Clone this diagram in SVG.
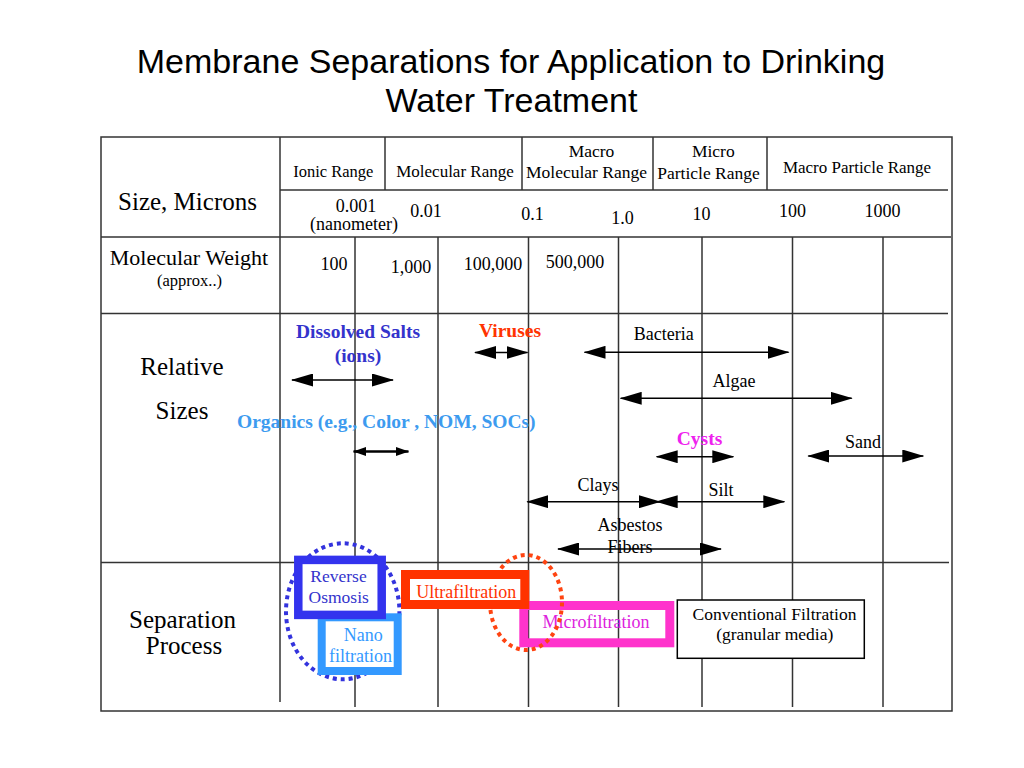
<svg xmlns="http://www.w3.org/2000/svg" width="1024" height="768" viewBox="0 0 1024 768">
<defs>
<style>
text{font-family:"Liberation Serif","Times New Roman",serif;text-anchor:middle;fill:#000}
.title{font-family:"Liberation Sans",Arial,sans-serif;font-size:34px}
.row{font-size:25px}
.hdr{font-size:17px}
.num{font-size:18px}
.lbl{font-size:18px}
.bold{font-weight:bold;font-size:19.5px}
.grid{stroke:#333;stroke-width:1.5;fill:none}
.arr{stroke:#000;stroke-width:1.6;fill:none;marker-start:url(#ah);marker-end:url(#ah)}
.arrs{stroke:#000;stroke-width:2.6;fill:none;marker-start:url(#ahs);marker-end:url(#ahs)}
.dot{fill:none;stroke-width:4;stroke-dasharray:4 4}
</style>
<marker id="ah" viewBox="0 0 22 13" refX="21" refY="6.5" markerWidth="22" markerHeight="13" markerUnits="userSpaceOnUse" orient="auto-start-reverse"><path d="M0,0 L22,6.5 L0,13 Z" fill="#000"/></marker>
<marker id="ahs" viewBox="0 0 13 9" refX="12.5" refY="4.5" markerWidth="13" markerHeight="9" markerUnits="userSpaceOnUse" orient="auto-start-reverse"><path d="M0,0 L13,4.5 L0,9 Z" fill="#000"/></marker>
</defs>
<rect width="1024" height="768" fill="#fff"/>
<g id="title">
<text class="title" x="511" y="72.5">Membrane Separations for Application to Drinking</text>
<text class="title" x="511.5" y="111.5">Water Treatment</text>
</g>
<g id="grid">
<rect class="grid" x="101" y="137" width="851" height="574" stroke-width="2"/>
<line class="grid" x1="280" y1="190" x2="948" y2="190"/>
<line class="grid" x1="101" y1="237" x2="951" y2="237"/>
<line class="grid" x1="101" y1="313.5" x2="948" y2="313.5"/>
<line class="grid" x1="101" y1="562.5" x2="949" y2="562.5"/>
<line class="grid" x1="280" y1="137" x2="280" y2="702"/>
<line class="grid" x1="385" y1="137" x2="385" y2="190"/>
<line class="grid" x1="522" y1="137" x2="522" y2="190"/>
<line class="grid" x1="653" y1="137" x2="653" y2="190"/>
<line class="grid" x1="767" y1="137" x2="767" y2="190"/>
<line class="grid" x1="355" y1="237" x2="355" y2="707"/>
<line class="grid" x1="438" y1="237" x2="438" y2="707"/>
<line class="grid" x1="528.5" y1="237" x2="528.5" y2="707"/>
<line class="grid" x1="618.5" y1="237" x2="618.5" y2="707"/>
<line class="grid" x1="702" y1="237" x2="702" y2="707"/>
<line class="grid" x1="792.5" y1="237" x2="792.5" y2="707"/>
<line class="grid" x1="883" y1="237" x2="883" y2="707"/>
</g>
<g id="row-headers">
<text class="row" x="187.5" y="210">Size, Microns</text>
<text x="189" y="265" font-size="22">Molecular Weight</text>
<text x="189.5" y="286" font-size="16.5">(approx..)</text>
<text class="row" x="182" y="375">Relative</text>
<text class="row" x="182" y="419">Sizes</text>
<text class="row" x="182.5" y="628.3">Separation</text>
<text class="row" x="184" y="654.3">Process</text>
</g>
<g id="ranges">
<text x="333.3" y="176.5" font-size="16.5">Ionic Range</text>
<text x="455" y="177" class="hdr">Molecular Range</text>
<text x="591.5" y="156.7" font-size="17.5">Macro</text>
<text x="586.5" y="178" font-size="17.5">Molecular Range</text>
<text x="713.3" y="156.7" font-size="17.5">Micro</text>
<text x="708.5" y="179.3" font-size="17.5">Particle Range</text>
<text x="857" y="173.3" class="hdr">Macro Particle Range</text>
</g>
<g id="sizes">
<text class="num" x="356" y="211.7">0.001</text>
<text class="num" x="354" y="230">(nanometer)</text>
<text class="num" x="426" y="216.7">0.01</text>
<text class="num" x="532.5" y="220">0.1</text>
<text class="num" x="622.5" y="224">1.0</text>
<text class="num" x="701.5" y="220">10</text>
<text class="num" x="792.5" y="217">100</text>
<text class="num" x="882.5" y="217">1000</text>
</g>
<g id="weights">
<text class="num" x="334" y="270">100</text>
<text class="num" x="411" y="273">1,000</text>
<text class="num" x="493" y="270">100,000</text>
<text class="num" x="575" y="268">500,000</text>
</g>
<g id="dissolved-salts"><text class="bold" x="358" y="338" fill="#3333cc" style="fill:#3333cc">Dissolved Salts</text><text class="bold" x="358" y="361.5" style="fill:#3333cc">(ions)</text></g>
<g id="organics"><text class="bold" x="386.3" y="428" style="fill:#3d9bef">Organics (e.g., Color , NOM, SOCs)</text></g>
<g id="viruses"><text class="bold" x="510" y="337" style="fill:#ff3300">Viruses</text></g>
<g id="bacteria"><text class="lbl" x="663.7" y="340">Bacteria</text></g>
<g id="algae"><text class="lbl" x="734" y="387">Algae</text></g>
<g id="cysts"><text class="bold" x="699.5" y="445" style="fill:#ee22ee">Cysts</text></g>
<g id="sand"><text class="lbl" x="863" y="448.3">Sand</text></g>
<g id="clays"><text class="lbl" x="598" y="491">Clays</text></g>
<g id="silt"><text class="lbl" x="721" y="495.7">Silt</text></g>
<g id="asbestos"><text class="lbl" x="630" y="531">Asbestos</text><text class="lbl" x="630" y="552.7">Fibers</text></g>
<g id="connectors">
<line class="arr" x1="292" y1="380" x2="393" y2="380"/>
<line class="arrs" x1="353.5" y1="451.5" x2="408.5" y2="451.5"/>
<line class="arr" x1="475" y1="352.5" x2="527.5" y2="352.5"/>
<line class="arr" x1="584.5" y1="352.3" x2="788.5" y2="352.3"/>
<line class="arr" x1="620.7" y1="398.3" x2="851.7" y2="398.3"/>
<line class="arr" x1="656.7" y1="456.7" x2="733.3" y2="456.7"/>
<line class="arr" x1="808.3" y1="456" x2="923.3" y2="456"/>
<line class="arr" x1="527.3" y1="501.7" x2="660" y2="501.7"/>
<line class="arr" x1="656.7" y1="501.7" x2="784.3" y2="501.7"/>
<line class="arr" x1="558" y1="549" x2="721" y2="549"/>
</g>
<g id="ro-nf-group"><ellipse class="dot" cx="342.7" cy="611.3" rx="56.7" ry="68" stroke="#3333dd"/></g>
<g id="nanofiltration"><rect x="321.7" y="617.3" width="76" height="53.7" fill="#fff" stroke="#3399ff" stroke-width="8"/><text class="lbl" x="363.3" y="640.7" style="fill:#3399ff">Nano</text><text class="lbl" x="360.5" y="661.7" style="fill:#3399ff">filtration</text></g>
<g id="reverse-osmosis"><rect x="298.3" y="559.9" width="83.4" height="55" fill="#fff" stroke="#3333ee" stroke-width="8.5"/><text x="338.5" y="581.7" font-size="17.5" style="fill:#3333cc">Reverse</text><text x="338.7" y="603.3" font-size="17.5" style="fill:#3333cc">Osmosis</text></g>
<g id="microfiltration"><rect x="523.8" y="605.5" width="146" height="37.3" fill="none" stroke="#ff33cc" stroke-width="9"/><text class="lbl" x="596" y="628.3" style="fill:#dd22dd">Microfiltration</text></g>
<g id="uf-mf-group"><ellipse class="dot" cx="526" cy="602.5" rx="36" ry="47.5" stroke="#ff4411"/></g>
<g id="ultrafiltration"><rect x="405.5" y="574.5" width="119.3" height="30" fill="#fff" stroke="#ff3300" stroke-width="9"/><text class="lbl" x="466.3" y="598.3" style="fill:#ff3300">Ultrafiltration</text></g>
<g id="conventional-filtration"><rect x="677.3" y="600" width="187" height="58.3" fill="#fff" stroke="#000" stroke-width="1.5"/><text x="774.5" y="620" font-size="17.5">Conventional Filtration</text><text x="774.7" y="640" font-size="17.5">(granular media)</text></g>
</svg>
